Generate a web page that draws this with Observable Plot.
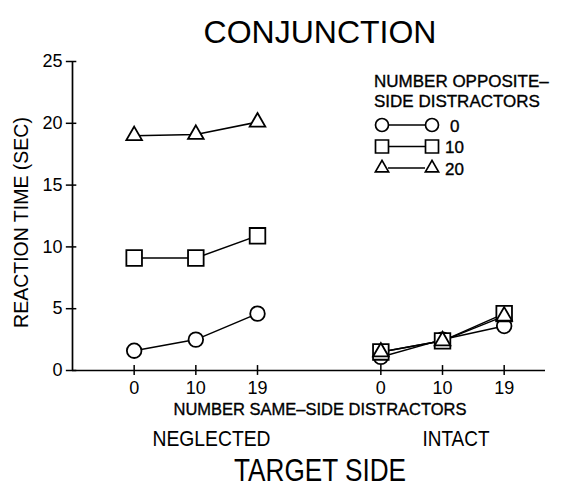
<!DOCTYPE html>
<html>
<head>
<meta charset="utf-8">
<script src="https://cdn.jsdelivr.net/npm/d3@7"></script>
<script src="https://cdn.jsdelivr.net/npm/@observablehq/plot@0.6"></script>
<style>
  body { margin: 0; background: #fff; }
</style>
</head>
<body>
<div id="chart"></div>
<script>
// Reaction time (sec) for conjunction search, by target side,
// number of same-side distractors and number of opposite-side distractors.
const targetSides = ["NEGLECTED", "INTACT"];
const sameSideCounts = [0, 10, 19];
const oppositeCounts = [0, 10, 20];

const neglected0 = [1.6, 2.5, 4.6];
const neglected10 = [9.1, 9.1, 10.9];
const neglected20 = [19.0, 19.1, 20.1];

const intact0 = [1.1, 2.5, 3.6];
const intact10 = [1.5, 2.4, 4.6];
const intact20 = [1.5, 2.4, 4.4];

const yTicks = [0, 5, 10, 15, 20, 25];

const FONT = '"Liberation Sans", Arial, Helvetica, sans-serif';

const seriesBySide = [
  [neglected0, neglected10, neglected20],
  [intact0, intact10, intact20]
];

// Each side occupies three evenly spaced slots, with one empty slot between sides.
const rows = targetSides.flatMap((side, si) =>
  oppositeCounts.flatMap((opp, oi) =>
    sameSideCounts.map((same, k) => ({
      side, opp, same,
      slot: si * 4 + k,
      rt: seriesBySide[si][oi][k]
    }))
  )
);
const slots = [...new Set(rows.map(d => d.slot))];

const symbolStyle = {
  0: {symbol: "circle", r: 7.3},
  10: {symbol: "square", r: 8.8},
  20: {symbol: "triangle", r: 5.8}
};

// Condensed lettering for the side labels (rendered width in px).
const condensed = new Map([
  [targetSides[0], 118],
  [targetSides[1], 67],
  ["TARGET SIDE", 172]
]);

// Legend for the opposite-side distractor series.
function oppositeLegend() {
  const g = d3.create("svg:g")
    .attr("font-family", FONT)
    .attr("font-size", 17)
    .attr("text-anchor", "start")
    .attr("fill", "black")
    .attr("stroke", "black")
    .attr("stroke-width", 0.35);
  const left = 374;
  g.append("text").attr("x", left).attr("y", 87).text("NUMBER OPPOSITE\u2013");
  g.append("text").attr("x", left).attr("y", 107).text("SIDE DISTRACTORS");
  const shapes = {
    0: d3.symbol(d3.symbolCircle, Math.PI * 6.5 * 6.5),
    10: d3.symbol(d3.symbolSquare, 13 * 13),
    20: d3.symbol(d3.symbolTriangle, Math.PI * 4.9 * 4.9)
  };
  const rowY = [125, 146.5, 168];
  oppositeCounts.forEach((opp, i) => {
    const y = rowY[i];
    g.append("line")
      .attr("x1", 388).attr("x2", 425).attr("y1", y).attr("y2", y)
      .attr("stroke", "black").attr("stroke-width", 1.5);
    for (const cx of [382, 432]) {
      g.append("path")
        .attr("d", shapes[opp]())
        .attr("transform", `translate(${cx},${y})`)
        .attr("fill", "white").attr("stroke", "black").attr("stroke-width", 1.7);
    }
    g.append("text")
      .attr("x", opp === 0 ? 450 : 445).attr("y", y + 6.5)
      .text(String(opp));
  });
  return g.node();
}

const chart = Plot.plot({
  width: 565,
  height: 494,
  marginLeft: 72,
  marginRight: 20,
  marginTop: 61,
  marginBottom: 124,
  x: {domain: [-1, 6.67]},
  y: {domain: [0, 25]},
  style: {fontFamily: FONT, fontSize: "18px", color: "black", background: "white"},
  marks: [
    // axis lines and crossing ticks
    Plot.ruleY([0], {x1: -1, x2: 6.67, stroke: "black", strokeWidth: 1.7}),
    Plot.ruleX([-1], {y1: 0, y2: 25, stroke: "black", strokeWidth: 1.7}),
    Plot.ruleX(slots, {x: d => d, y1: -0.4, y2: 0.4, stroke: "black", strokeWidth: 1.5}),
    Plot.ruleY(yTicks, {y: d => d, x1: -1.1, x2: -0.93, stroke: "black", strokeWidth: 1.5}),
    Plot.axisY({ticks: yTicks, tickSize: 0, tickPadding: 10, label: null, fontSize: 18}),
    Plot.axisX({ticks: slots, tickFormat: s => sameSideCounts[s % 4], tickSize: 0, tickPadding: 11, label: null, fontSize: 18}),

    // series lines, then symbols on top
    Plot.line(rows, {x: "slot", y: "rt", z: d => `${d.side}-${d.opp}`, stroke: "black", strokeWidth: 1.5}),
    ...oppositeCounts.map(opp =>
      Plot.dot(rows.filter(d => d.opp === opp), {
        x: "slot", y: "rt",
        symbol: symbolStyle[opp].symbol, r: symbolStyle[opp].r,
        fill: "white", stroke: "black", strokeWidth: 1.8
      })
    ),

    // titles and labels
    Plot.text(["CONJUNCTION"], {frameAnchor: "top", dx: 11, dy: -41, fontSize: 32, fill: "black"}),
    Plot.text(["REACTION TIME (SEC)"], {frameAnchor: "left", textAnchor: "middle", dx: -50.5, dy: 6.5, rotate: -90, fontSize: 19.5, fill: "black"}),
    Plot.text(["NUMBER SAME\u2013SIDE DISTRACTORS"], {frameAnchor: "bottom", dx: 11, dy: 44, fontSize: 16.5, fill: "black", stroke: "black", strokeWidth: 0.35}),
    Plot.text([targetSides[0]], {frameAnchor: "bottom", dx: -97.5, dy: 75, fontSize: 22.5, fill: "black"}),
    Plot.text([targetSides[1]], {frameAnchor: "bottom", dx: 147, dy: 75, fontSize: 22.5, fill: "black"}),
    Plot.text(["TARGET SIDE"], {frameAnchor: "bottom", dx: 11, dy: 110, fontSize: 32, fill: "black"}),

    oppositeLegend
  ]
});

// Squeeze the side labels to a condensed width.
d3.select(chart).selectAll("text")
  .filter(function () { return condensed.has(this.textContent); })
  .attr("textLength", function () { return condensed.get(this.textContent); })
  .attr("lengthAdjust", "spacingAndGlyphs");

document.getElementById("chart").append(chart);
</script>
</body>
</html>
